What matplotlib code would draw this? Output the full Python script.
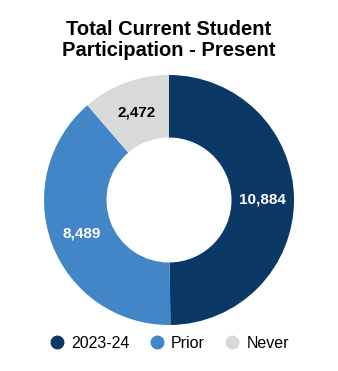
import numpy as np
import matplotlib.pyplot as plt
from matplotlib.lines import Line2D

plt.rcParams['font.family'] = ['Liberation Sans', 'DejaVu Sans']

# ---------------- Datos ----------------
categories = ["2023-24", "Prior", "Never"]
values = [10884, 8489, 2472]
colors = ["#0c3866", "#4286c8", "#d9d9d9"]
label_colors = ["white", "white", "black"]

fig = plt.figure(figsize=(3.38, 3.71), dpi=100)
ax = fig.add_axes([44/338, 46/371, 250/338, 250/371])

wedges, texts = ax.pie(values, colors=colors, startangle=90, counterclock=False,
                       radius=1.0, wedgeprops=dict(width=0.5, linewidth=0))
ax.set_xlim(-1, 1)
ax.set_ylim(-1, 1)
ax.set_aspect("equal")

# etiquetas en el centro del anillo
total = sum(values)
start = 90
for v, c in zip(values, label_colors):
    ang = start - 360 * v / total / 2
    start -= 360 * v / total
    r = 0.75
    ax.text(r*np.cos(np.radians(ang)), r*np.sin(np.radians(ang)), f"{v:,}",
            ha="center", va="center", color=c, fontsize=11, fontweight="bold")

fig.text(0.5, 1 - 40/371, "Total Current Student\nParticipation - Present",
         ha="center", va="center", fontsize=14.5, fontweight="bold", linespacing=1.15)

handles = [Line2D([0], [0], marker="o", linestyle="", markersize=9,
                  markerfacecolor=c, markeredgecolor=c) for c in colors]
fig.legend(handles, categories, loc="center", bbox_to_anchor=(0.5, 1 - 343/371),
           ncol=3, frameon=False, fontsize=11.5, handletextpad=0.4,
           columnspacing=1.2, handlelength=1.0)

fig.savefig("out.png", dpi=100)
